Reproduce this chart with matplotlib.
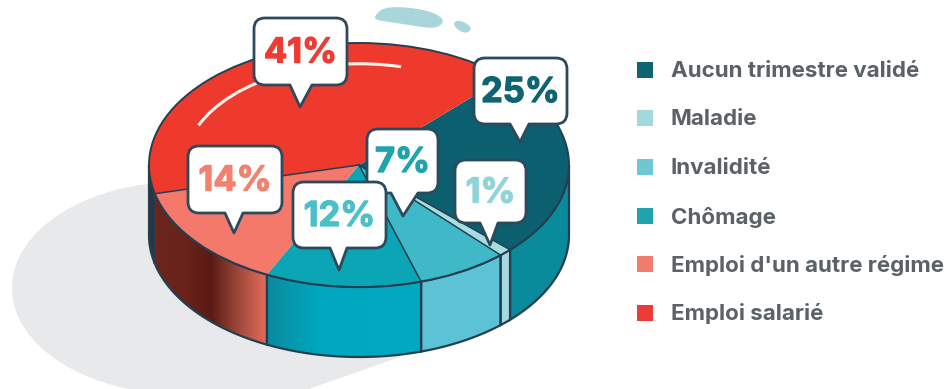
import numpy as np
import matplotlib
matplotlib.use("Agg")
import matplotlib.pyplot as plt
import matplotlib.patheffects as pe
from matplotlib.colors import LinearSegmentedColormap
from matplotlib.patches import Arc, Ellipse, PathPatch, Polygon, Rectangle
from matplotlib.path import Path

# Share of each situation, in percent
categories = ["Aucun trimestre validé", "Maladie", "Invalidité", "Chômage",
              "Emploi d'un autre régime", "Emploi salarié"]
values = [25, 1, 7, 12, 14, 41]
value_labels = ["25%", "1%", "7%", "12%", "14%", "41%"]

top_colors = ["#0b5f6e", "#a8dde0", "#3fb9c7", "#0ba5b5", "#f4796b", "#ee3a2d"]
legend_colors = ["#0e6473", "#a3d8dc", "#6fc7d2", "#1fa3ad", "#f07c6c", "#ee3b33"]
label_colors = ["#0e6473", "#8fd5d8", "#1fa3ad", "#4cc0c8", "#f2826f", "#ee3b33"]

# Rim colours of each slice, left to right along the visible side
side_colors = [
    ["#0a8b9c", "#0a8b9c"],
    ["#a5dbe0", "#a5dbe0"],
    ["#5cc3d6", "#5cc3d6"],
    ["#0c8a9f", "#00a8bf", "#00a9c0", "#00a9c0"],
    ["#6d261e", "#6a231b", "#5a1b14", "#a24a3d", "#e76e5e"],
    ["#2b3947", "#33303d"],
]

OUTLINE = "#243f50"
WIDTH, HEIGHT = 946, 389
CX, CY, RX, RY, DEPTH = 359, 165, 210, 122, 70
START_ANGLE = 46


def dx(px):
    return (px - CX) / RX


def dy(py):
    return (CY - py) / RY


def smooth_blob(points):
    """Closed quadratic spline through the midpoints of pixel control points."""
    pts = [(dx(x), dy(y)) for x, y in points]
    mid = lambda p, q: ((p[0] + q[0]) / 2, (p[1] + q[1]) / 2)
    verts = [mid(pts[-1], pts[0])]
    codes = [Path.MOVETO]
    for i, p in enumerate(pts):
        verts += [p, mid(p, pts[(i + 1) % len(pts)])]
        codes += [Path.CURVE3, Path.CURVE3]
    return Path(verts, codes)


fig = plt.figure(figsize=(WIDTH / 100, HEIGHT / 100), dpi=100, facecolor="white")
ax = fig.add_axes([0, 0, 1, 1])

# Ground shadow behind the disc
shadow = "#e8e9ea"
ax.add_patch(Ellipse((dx(180), dy(288)), 2 * 168 / RX, 2 * 106 / RY, fc=shadow, ec="none", zorder=1))
ax.add_patch(Polygon([(dx(170), dy(230)), (dx(400), dy(200)), (dx(400), dy(357)),
                      (dx(300), dy(392)), (dx(170), dy(392))],
                     closed=True, fc=shadow, ec="none", zorder=1))

# Pale splashes above the disc
for points in [
    [(375, 15), (386, 6), (425, 9), (446, 19), (437, 29), (415, 26), (390, 22), (375, 20)],
    [(453, 22), (461, 20), (473, 28), (466, 34), (456, 29)],
]:
    ax.add_patch(PathPatch(smooth_blob(points), fc="#a9d6da", ec="none", zorder=1))

# Slice boundaries, clockwise from the start angle
fractions = np.array(values, dtype=float) / sum(values)
ends = START_ANGLE - 360 * np.cumsum(fractions)
starts = np.concatenate([[START_ANGLE], ends[:-1]])
depth = DEPTH / RY

# Visible rim: the lower half of the disc, extruded downward
for start, end, stops in zip(starts, ends, side_colors):
    lo, hi = end % 360, start % 360
    if hi <= lo:
        hi += 360
    a, b = max(lo, 180), min(hi, 360)
    if a >= b:
        continue
    t = np.radians(np.linspace(a, b, 80))
    x, y = np.cos(t), np.sin(t)
    outline = np.column_stack([np.r_[x, x[::-1]], np.r_[y, y[::-1] - depth]])
    clip = Polygon(outline, closed=True, fc="none", ec=OUTLINE, lw=1.6, zorder=3)
    ax.add_patch(clip)
    cmap = LinearSegmentedColormap.from_list("rim", stops)
    image = ax.imshow(np.linspace(0, 1, 256)[None, :], cmap=cmap, aspect="auto",
                      extent=(x.min(), x.max(), y.min() - depth, y.max()),
                      zorder=2.5, interpolation="bilinear")
    image.set_clip_path(clip.get_path(), ax.transData)

# Top face; only some slice borders carry a dark line
wedges, _ = ax.pie(values, colors=top_colors, startangle=START_ANGLE, counterclock=False,
                   radius=1, center=(0, 0), wedgeprops=dict(edgecolor="none"))
for wedge in wedges:
    wedge.set_zorder(4)
ax.add_patch(Ellipse((0, 0), 2, 2, fc="none", ec=OUTLINE, lw=1.4, zorder=4.2))
for boundary in (ends[0], ends[1], ends[2], ends[4]):
    angle = np.radians(boundary)
    ax.plot([0, np.cos(angle)], [0, np.sin(angle)], color=OUTLINE, lw=1.1, zorder=4.1)

ax.set_aspect("auto")
ax.set_xlim(dx(0), dx(WIDTH))
ax.set_ylim(dy(HEIGHT), dy(0))
ax.axis("off")

# White highlight along the rim of the largest slice
ax.add_patch(Arc((0, 0), 2 * 0.83, 2 * 0.83, theta1=76, theta2=157, color="#fdf2ec", lw=2.2, zorder=5))


def bubble(left, right, top, bottom, tip, base_left, base_right, radius=11):
    """Rounded call-out with a pointer on its lower edge, in pixel coordinates."""
    r = radius
    pts = [
        (Path.MOVETO, (left + r, top)), (Path.LINETO, (right - r, top)),
        (Path.CURVE3, (right, top)), (Path.CURVE3, (right, top + r)),
        (Path.LINETO, (right, bottom - r)),
        (Path.CURVE3, (right, bottom)), (Path.CURVE3, (right - r, bottom)),
        (Path.LINETO, (base_right, bottom)), (Path.LINETO, tip), (Path.LINETO, (base_left, bottom)),
        (Path.LINETO, (left + r, bottom)),
        (Path.CURVE3, (left, bottom)), (Path.CURVE3, (left, bottom - r)),
        (Path.LINETO, (left, top + r)),
        (Path.CURVE3, (left, top)), (Path.CURVE3, (left + r, top)),
        (Path.CLOSEPOLY, (left + r, top)),
    ]
    codes = [c for c, _ in pts]
    verts = [(dx(x), dy(y)) for _, (x, y) in pts]
    return Path(verts, codes)


# Call-out geometry per category index, drawn back to front
callouts = {
    5: dict(left=254, right=347, top=18, bottom=85, tip=(300, 107), base_left=290, base_right=312),
    0: dict(left=474, right=567, top=58, bottom=124, tip=(520, 142), base_left=510, base_right=529),
    4: dict(left=188, right=282, top=146, bottom=213, tip=(234, 233), base_left=225, base_right=243),
    2: dict(left=367, right=438, top=129, bottom=193, tip=(403, 216), base_left=391, base_right=418),
    1: dict(left=455, right=526, top=160, bottom=223, tip=(490, 245), base_left=480, base_right=498),
    3: dict(left=293, right=386, top=182, bottom=248, tip=(339, 270), base_left=330, base_right=347),
}
for order, (index, box) in enumerate(callouts.items()):
    z = 6 + order * 0.1
    ax.add_patch(PathPatch(bubble(**box), fc="white", ec="#2b4a5c", lw=2.0, joinstyle="round", zorder=z))
    label = ax.text(dx((box["left"] + box["right"]) / 2), dy((box["top"] + box["bottom"]) / 2 + 2),
                    value_labels[index], color=label_colors[index], family="Inter", weight="bold",
                    fontsize=24.8, ha="center", va="center", zorder=z + 0.01)
    label.set_path_effects([pe.withStroke(linewidth=0.9, foreground=label_colors[index])])

# Legend column
for colour, label, y in zip(legend_colors, categories, [70, 118, 167, 216, 264, 313]):
    ax.add_patch(Rectangle((dx(637), dy(y + 8)), 16 / RX, 16 / RY, fc=colour, ec="none", zorder=6))
    ax.text(dx(671), dy(y + 1), label, color="#5a6268", family="Inter", weight="bold",
            fontsize=16.1, ha="left", va="center", zorder=6)

fig.savefig("out.png", dpi=100, facecolor="white")
